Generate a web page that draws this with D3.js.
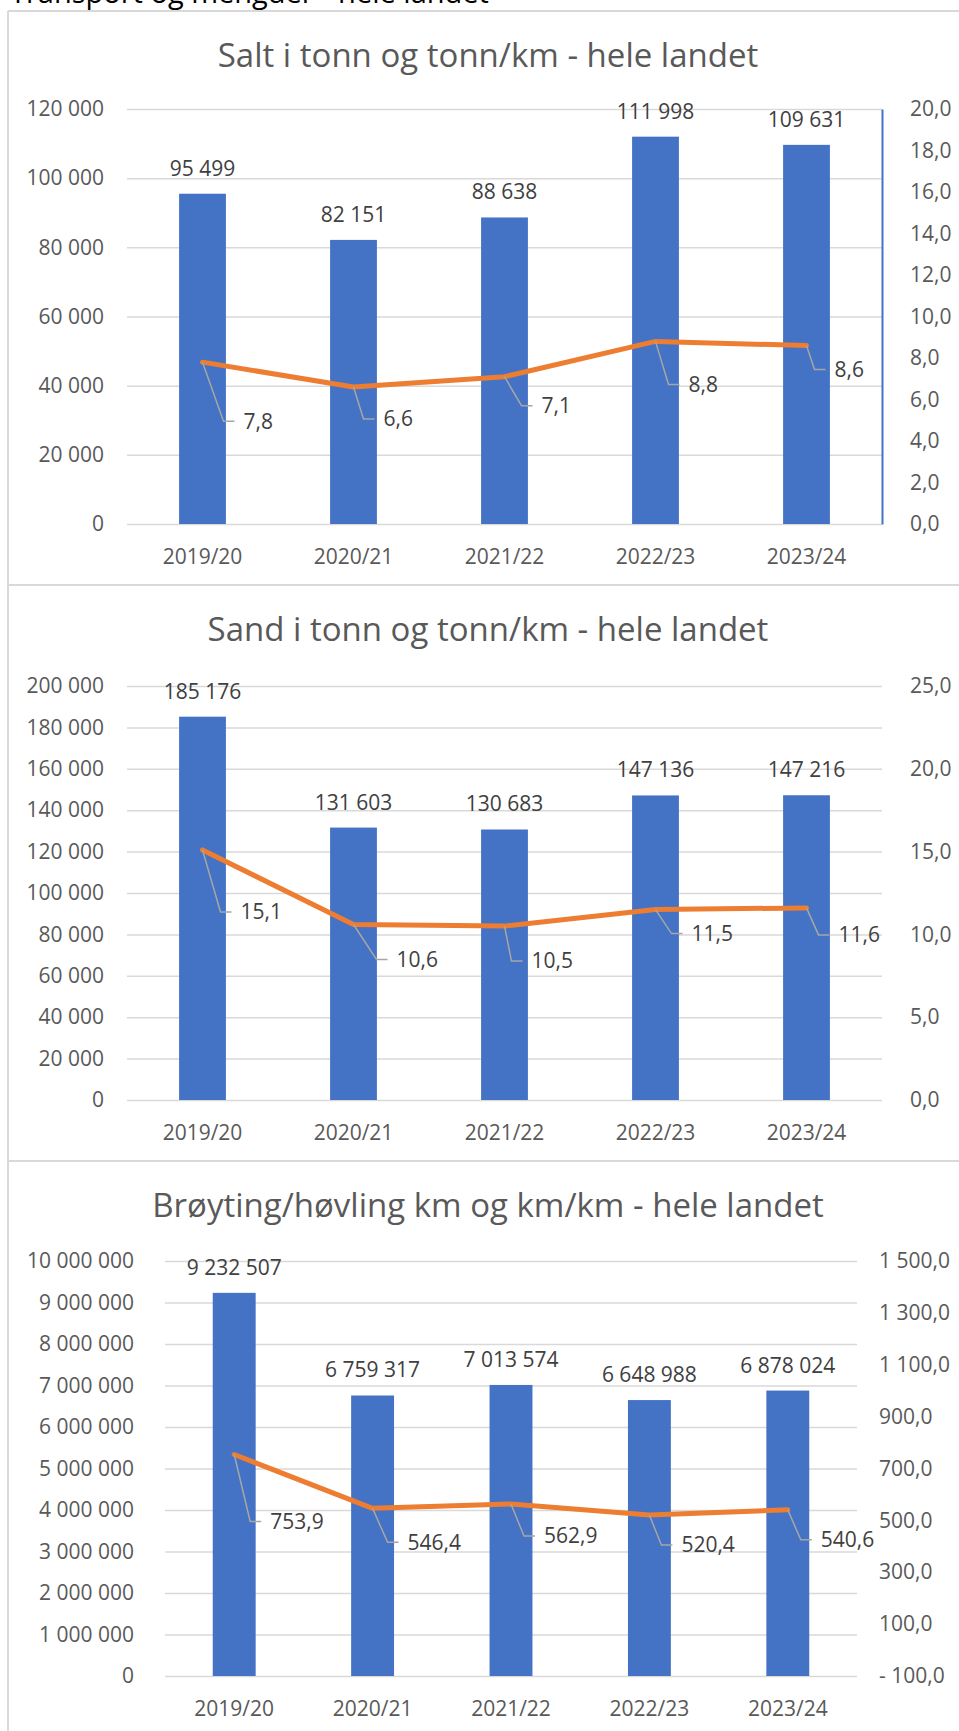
<!DOCTYPE html>
<html>
<head>
<meta charset="utf-8">
<script src="https://cdn.jsdelivr.net/npm/d3@7"></script>
<style>
body { margin: 0; background: #fff; }
svg { display: block; font-family: "Open Sans", sans-serif; }
</style>
</head>
<body>
<script>
var seasons = ["2019/20", "2020/21", "2021/22", "2022/23", "2023/24"];

var saltTonn = [95499, 82151, 88638, 111998, 109631];
var saltPerKm = [7.8, 6.6, 7.1, 8.8, 8.6];

var sandTonn = [185176, 131603, 130683, 147136, 147216];
var sandPerKm = [15.1, 10.6, 10.5, 11.5, 11.6];

var broytKm = [9232507, 6759317, 7013574, 6648988, 6878024];
var broytPerKm = [753.9, 546.4, 562.9, 520.4, 540.6];

var titles = [
    "Salt i tonn og tonn/km - hele landet",
    "Sand i tonn og tonn/km - hele landet",
    "Brøyting/høvling km og km/km - hele landet"
];

var saltLeftTicks = [0, 20000, 40000, 60000, 80000, 100000, 120000];
var saltRightTicks = [0, 2, 4, 6, 8, 10, 12, 14, 16, 18, 20];
var sandLeftTicks = [0, 20000, 40000, 60000, 80000, 100000, 120000, 140000, 160000, 180000, 200000];
var sandRightTicks = [0, 5, 10, 15, 20, 25];
var broytLeftTicks = [0, 1000000, 2000000, 3000000, 4000000, 5000000, 6000000, 7000000, 8000000, 9000000, 10000000];
var broytRightTicks = [-100, 100, 300, 500, 700, 900, 1100, 1300, 1500];

// label offsets (px) for the line labels, as placed by hand in the original
var saltLabelPos = [[21, 59], [10, 32], [17, 29], [13, 43], [8, 24]];
var sandLabelPos = [[18, 62], [23, 35], [7, 35], [16, 24], [12, 27]];
var broytLabelPos = [[16, 67], [15, 34], [13, 32], [12, 30], [13, 30]];

var width = 959, height = 1731;

var loc = d3.formatLocale({decimal: ",", thousands: " ", grouping: [3], currency: ["", ""]});
var fmtInt = loc.format(",d");
var fmtDec = loc.format(",.1f");
function fmtRight(v) {
    return v < 0 ? "- " + fmtDec(-v) : fmtDec(v);
}

var svg = d3.select("body").append("svg")
    .attr("width", width)
    .attr("height", height);

svg.append("rect").attr("width", width).attr("height", height).attr("fill", "#fff");

// heading of the page above the charts, mostly cut off
svg.append("text")
    .attr("x", 10)
    .attr("y", 3)
    .attr("font-size", 29)
    .attr("fill", "#000")
    .text("Transport og mengder - hele landet");

// chart borders
var borderColor = "#d9d9d9";
svg.append("line").attr("x1", 8).attr("x2", 8).attr("y1", 11).attr("y2", height)
    .attr("stroke", borderColor).attr("stroke-width", 2);
[11, 585, 1161].forEach(function(yy) {
    svg.append("line").attr("x1", 8).attr("x2", width).attr("y1", yy).attr("y2", yy)
        .attr("stroke", borderColor).attr("stroke-width", 2);
});

var panels = [
    {title: titles[0], top: 11, plotTop: 109, plotBottom: 524, left: 127, right: 882, labelRight: 104,
     bars: saltTonn, line: saltPerKm, leftTicks: saltLeftTicks, rightTicks: saltRightTicks,
     leftDomain: [0, 120000], rightDomain: [0, 20], labelPos: saltLabelPos, rightPad: 28, rightLine: true},
    {title: titles[1], top: 585, plotTop: 686, plotBottom: 1100, left: 127, right: 882, labelRight: 104,
     bars: sandTonn, line: sandPerKm, leftTicks: sandLeftTicks, rightTicks: sandRightTicks,
     leftDomain: [0, 200000], rightDomain: [0, 25], labelPos: sandLabelPos, rightPad: 28, rightLine: false},
    {title: titles[2], top: 1161, plotTop: 1261, plotBottom: 1676, left: 165, right: 857, labelRight: 134,
     bars: broytKm, line: broytPerKm, leftTicks: broytLeftTicks, rightTicks: broytRightTicks,
     leftDomain: [0, 10000000], rightDomain: [-100, 1500], labelPos: broytLabelPos, rightPad: 22, rightLine: false}
];

panels.forEach(drawPanel);

function drawPanel(p) {
    var g = svg.append("g");

    var x = d3.scaleBand()
        .domain(seasons)
        .range([p.left, p.right])
        .paddingInner(0.69)
        .paddingOuter(0.345);

    var y = d3.scaleLinear().domain(p.leftDomain).range([p.plotBottom, p.plotTop]);
    var y2 = d3.scaleLinear().domain(p.rightDomain).range([p.plotBottom, p.plotTop]);

    g.append("text")
        .attr("x", 488)
        .attr("y", p.top + 56)
        .attr("text-anchor", "middle")
        .attr("font-size", 33)
        .attr("fill", "#595959")
        .text(p.title);

    // left axis + gridlines
    g.append("g")
        .attr("transform", "translate(" + p.left + ",0)")
        .call(d3.axisLeft(y).tickValues(p.leftTicks).tickSize(-(p.right - p.left)).tickPadding(p.left - p.labelRight).tickFormat(fmtInt))
        .call(function(s) {
            s.select(".domain").remove();
            s.selectAll("line").attr("stroke", "#d9d9d9").attr("stroke-width", 1.5);
            s.selectAll("text").attr("fill", "#595959").attr("font-size", 21).attr("font-family", "Open Sans");
        });

    // right axis
    var right = g.append("g")
        .attr("transform", "translate(" + p.right + ",0)")
        .call(d3.axisRight(y2).tickValues(p.rightTicks).tickSize(0).tickPadding(p.rightPad).tickFormat(fmtRight))
        .call(function(s) {
            s.selectAll("text").attr("fill", "#595959").attr("font-size", 21).attr("font-family", "Open Sans");
        });
    if (p.rightLine) {
        right.select(".domain").attr("stroke", "#4472c4").attr("stroke-width", 2);
    } else {
        right.select(".domain").remove();
    }

    // category axis
    g.append("g")
        .attr("transform", "translate(0," + p.plotBottom + ")")
        .call(d3.axisBottom(x).tickSize(0).tickPadding(25))
        .call(function(s) {
            s.select(".domain").remove();
            s.selectAll("text").attr("fill", "#595959").attr("font-size", 21).attr("font-family", "Open Sans");
        });

    // bars
    g.selectAll(".bar")
        .data(p.bars)
        .enter().append("rect")
        .attr("class", "bar")
        .attr("x", function(d, i) { return x(seasons[i]); })
        .attr("y", function(d) { return y(d); })
        .attr("width", x.bandwidth())
        .attr("height", function(d) { return p.plotBottom - y(d); })
        .attr("fill", "#4472c4");

    g.selectAll(".barlabel")
        .data(p.bars)
        .enter().append("text")
        .attr("class", "barlabel")
        .attr("x", function(d, i) { return x(seasons[i]) + x.bandwidth() / 2; })
        .attr("y", function(d) { return y(d) - 18; })
        .attr("text-anchor", "middle")
        .attr("font-size", 21)
        .attr("fill", "#404040")
        .text(function(d) { return fmtInt(d); });

    // line
    var cx = function(i) { return x(seasons[i]) + x.bandwidth() / 2; };
    var line = d3.line()
        .x(function(d, i) { return cx(i); })
        .y(function(d) { return y2(d); });

    g.append("path")
        .datum(p.line)
        .attr("d", line)
        .attr("fill", "none")
        .attr("stroke", "#ed7d31")
        .attr("stroke-width", 5)
        .attr("stroke-linejoin", "round")
        .attr("stroke-linecap", "round");

    // leader lines + labels
    g.selectAll(".leader")
        .data(p.line)
        .enter().append("path")
        .attr("class", "leader")
        .attr("d", function(d, i) {
            var px = cx(i), py = y2(d), o = p.labelPos[i];
            return "M" + px + "," + py + "L" + (px + o[0]) + "," + (py + o[1]) + "H" + (px + o[0] + 11);
        })
        .attr("fill", "none")
        .attr("stroke", "#a6a6a6")
        .attr("stroke-width", 1.5);

    g.selectAll(".linelabel")
        .data(p.line)
        .enter().append("text")
        .attr("class", "linelabel")
        .attr("x", function(d, i) { return cx(i) + p.labelPos[i][0] + 20; })
        .attr("y", function(d, i) { return y2(d) + p.labelPos[i][1]; })
        .attr("dy", "0.35em")
        .attr("font-size", 21)
        .attr("fill", "#404040")
        .text(function(d) { return fmtDec(d); });
}
</script>
</body>
</html>
